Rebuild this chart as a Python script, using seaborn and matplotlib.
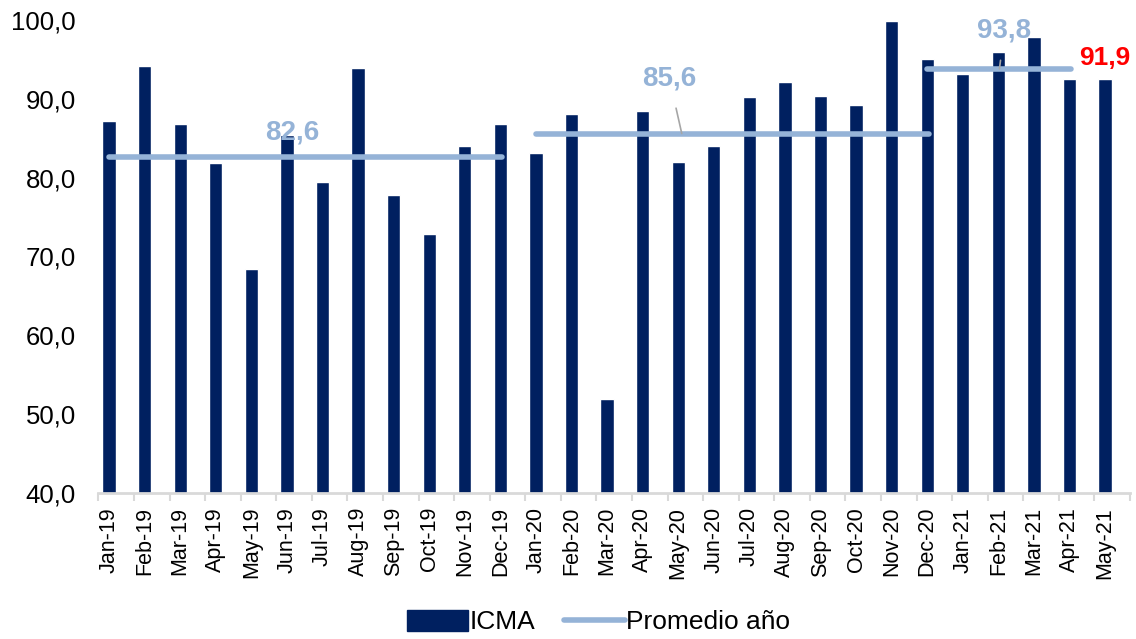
import matplotlib.pyplot as plt
import pandas as pd
import seaborn as sns

meses = ["Jan-19", "Feb-19", "Mar-19", "Apr-19", "May-19", "Jun-19", "Jul-19",
         "Aug-19", "Sep-19", "Oct-19", "Nov-19", "Dec-19", "Jan-20", "Feb-20",
         "Mar-20", "Apr-20", "May-20", "Jun-20", "Jul-20", "Aug-20", "Sep-20",
         "Oct-20", "Nov-20", "Dec-20", "Jan-21", "Feb-21", "Mar-21", "Apr-21",
         "May-21"]
icma = [87.2, 94.2, 86.8, 81.9, 68.4, 85.4, 79.4, 93.9, 77.8, 72.8, 84.0, 86.8,
        83.1, 88.1, 51.9, 88.5, 82.0, 84.0, 90.2, 92.1, 90.4, 89.2, 99.9, 95.0,
        93.1, 96.0, 97.8, 92.5, 92.5]

# promedio por año: (valor, mes inicio, mes fin)
promedio_valor = [82.6, 85.6, 93.8]
promedio_inicio = ["Jan-19", "Jan-20", "Dec-20"]
promedio_fin = ["Dec-19", "Dec-20", "Apr-21"]
ultimo_valor = 91.9

azul_osc = "#002060"
azul_cla = "#95B3D7"

df = pd.DataFrame({"mes": meses, "ICMA": icma})

sns.set_theme(style="white")
plt.rcParams["font.family"] = ["Liberation Sans", "DejaVu Sans"]
plt.rcParams["text.color"] = "black"
plt.rcParams["xtick.color"] = "black"
plt.rcParams["ytick.color"] = "black"

fig = plt.figure(figsize=(11.36, 6.39), dpi=100)
ax = fig.add_axes([0.0863, 0.2285, 0.9084, 0.7402])

sns.barplot(data=df, x="mes", y="ICMA", color=azul_osc, width=0.37,
            saturation=1, ax=ax)

for v, ini, fin in zip(promedio_valor, promedio_inicio, promedio_fin):
    ax.plot([meses.index(ini), meses.index(fin) + 0.05], [v, v], color=azul_cla,
            linewidth=4, solid_capstyle="round")

etiq = dict(color=azul_cla, fontsize=20, fontweight="bold", ha="center", va="center")
ax.text(5.14, 85.7, "82,6", **etiq)
ax.annotate("85,6", xy=(16.1, promedio_valor[1]), xytext=(15.75, 92.6),
            arrowprops=dict(arrowstyle="-", color="#a6a6a6", lw=1.2,
                            shrinkA=10, shrinkB=0), **etiq)
ax.annotate("93,8", xy=(25.03, promedio_valor[2]), xytext=(25.17, 98.7),
            arrowprops=dict(arrowstyle="-", color="#a6a6a6", lw=1.2,
                            shrinkA=10, shrinkB=0), **etiq)
ax.text(28, 95.2, f"{ultimo_valor:.1f}".replace(".", ","), color="red",
        fontsize=19, fontweight="bold", ha="center", va="center")

ax.set_ylim(40, 100)
ax.set_yticks(range(40, 101, 10))
ax.set_yticklabels([f"{t:.1f}".replace(".", ",") for t in range(40, 101, 10)],
                   fontsize=18.5)
ax.set_xlim(-0.31, 28.53)
ax.set_xticks(range(len(meses)))
ax.set_xticklabels(meses, rotation=90, fontsize=15.5)
ax.set_xticks([i - 0.3 for i in range(len(meses) + 1)], minor=True)
ax.tick_params(axis="x", which="major", length=0, pad=10)
ax.tick_params(axis="x", which="minor", length=6, color="#d9d9d9", width=1.5,
               direction="out", bottom=True)
ax.tick_params(axis="y", length=0, pad=16)
ax.set_xlabel("")
ax.set_ylabel("")

for s in ["top", "right", "left"]:
    ax.spines[s].set_visible(False)
ax.spines["bottom"].set_color("#d9d9d9")
ax.spines["bottom"].set_linewidth(2)

h_bar = plt.Rectangle((0, 0), 1, 1, color=azul_osc)
h_lin = plt.Line2D([0], [0], color=azul_cla, linewidth=4, solid_capstyle="round")
fig.legend([h_bar, h_lin], ["ICMA", "Promedio año"], loc="lower center",
           bbox_to_anchor=(0.527, -0.03), ncol=2, frameon=False, fontsize=19,
           handlelength=2.3, handleheight=0.85, handletextpad=0.05,
           columnspacing=1.1)

fig.savefig("out.png", dpi=100)
